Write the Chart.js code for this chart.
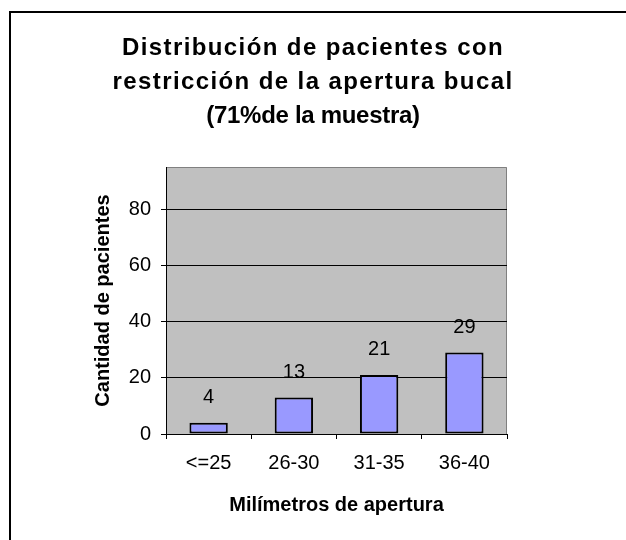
<!DOCTYPE html>
<html>
<head>
<meta charset="utf-8">
<script src="https://cdn.jsdelivr.net/npm/chart.js@4.4.1/dist/chart.umd.min.js"></script>
<style>
  html, body { margin: 0; padding: 0; background: #fff; }
  #wrap { width: 626px; height: 540px; position: relative; }
</style>
</head>
<body>
<div id="wrap"><canvas id="chart"></canvas></div>
<script>
const titleLines = [
  "Distribución de pacientes con",
  "restricción de la apertura bucal",
  "(71%de la muestra)"
];
const categories = ["<=25", "26-30", "31-35", "36-40"];
const patients = [4, 13, 21, 29];
const yTitle = "Cantidad de pacientes";
const xTitle = "Milímetros de apertura";
const yMax = 95;
const yStep = 20;

const FONT = "'Liberation Sans', Arial, sans-serif";
// letter spacing of each title line (the first two are stretched in the original)
const TITLE_SPACING = ["1.4px", "1.4px", "-0.3px"];

// white page, the black frame on top/left, grey plot area with its border
const backdrop = {
  id: "backdrop",
  beforeDraw(chart) {
    const { ctx, chartArea: a } = chart;
    ctx.save();
    ctx.fillStyle = "#fff";
    ctx.fillRect(0, 0, chart.width, chart.height);
    ctx.fillStyle = "#000";
    ctx.fillRect(9, 11, chart.width - 9, 2);
    ctx.fillRect(9, 11, 2, chart.height - 11);
    ctx.fillStyle = "#c0c0c0";
    ctx.fillRect(a.left, a.top, a.right - a.left, a.bottom - a.top);
    ctx.strokeStyle = "#808080";
    ctx.lineWidth = 1;
    ctx.beginPath();
    ctx.moveTo(a.left, a.top + 0.5);
    ctx.lineTo(a.right - 0.5, a.top + 0.5);
    ctx.lineTo(a.right - 0.5, a.bottom);
    ctx.stroke();
    ctx.restore();
  }
};

// value above each bar
const barLabels = {
  id: "barLabels",
  afterDatasetsDraw(chart) {
    const { ctx } = chart;
    const meta = chart.getDatasetMeta(0);
    ctx.save();
    ctx.font = "20px " + FONT;
    ctx.fillStyle = "#000";
    ctx.textAlign = "center";
    ctx.textBaseline = "middle";
    meta.data.forEach((bar, i) => {
      ctx.fillText(String(patients[i]), bar.x, bar.y - 25);
    });
    ctx.restore();
  }
};

// wrap the title block's draw so only the title lines get their letter spacing
const titleSpacing = {
  id: "titleSpacing",
  beforeDraw(chart) {
    const block = chart.titleBlock;
    if (!block || block._spaced) return;
    const draw = block.draw.bind(block);
    block.draw = (area) => {
      const ctx = block.ctx;
      const fill = ctx.fillText;
      ctx.save();
      ctx.fillText = function (text, x, y, w) {
        const i = titleLines.indexOf(text);
        this.letterSpacing = i >= 0 ? TITLE_SPACING[i] : "0px";
        return fill.call(this, text, x, y, w);
      };
      draw(area);
      delete ctx.fillText;
      ctx.restore();
    };
    block._spaced = true;
  }
};

new Chart(document.getElementById("chart"), {
  type: "bar",
  data: {
    labels: categories,
    datasets: [{
      data: patients,
      backgroundColor: "#9999ff",
      borderColor: "#000",
      borderWidth: 2,
      borderSkipped: false,
      barPercentage: 0.45,
      categoryPercentage: 1
    }]
  },
  options: {
    responsive: true,
    maintainAspectRatio: false,
    animation: false,
    layout: { padding: 0 },
    scales: {
      x: {
        offset: true,
        grid: { offset: true, drawOnChartArea: false, drawTicks: true, tickLength: 5, color: "#000" },
        border: { display: true, color: "#000", width: 1 },
        ticks: { color: "#000", font: { family: FONT, size: 20 }, padding: 12, maxRotation: 0 },
        title: { display: true, text: xTitle, color: "#000", font: { family: FONT, size: 20, weight: "bold" }, padding: { top: 0, bottom: 23 } },
        afterFit: (scale) => { scale.height = 106; }
      },
      y: {
        min: 0,
        max: yMax,
        grid: { color: "#000", tickLength: 5, drawTicks: true },
        border: { display: true, color: "#000", width: 1 },
        ticks: { stepSize: yStep, includeBounds: false, color: "#000", font: { family: FONT, size: 20 }, padding: 10 },
        title: { display: true, text: yTitle, color: "#000", font: { family: FONT, size: 20, weight: "bold" }, padding: { top: 91, bottom: 0 } },
        afterFit: (scale) => { scale.width = 166; }
      },
      // empty right-hand margin so the title stays centred on the whole page
      margin: {
        position: "right",
        display: true,
        grid: { display: false, drawTicks: false },
        border: { display: false },
        ticks: { display: false },
        afterFit: (scale) => { scale.width = 119; }
      }
    },
    plugins: {
      legend: { display: false },
      tooltip: { enabled: false },
      title: {
        display: true,
        text: titleLines,
        color: "#000",
        font: { family: FONT, size: 24, weight: "bold", lineHeight: 34 / 24 },
        padding: { top: 31, bottom: 34 }
      }
    }
  },
  plugins: [backdrop, barLabels, titleSpacing]
});
</script>
</body>
</html>
